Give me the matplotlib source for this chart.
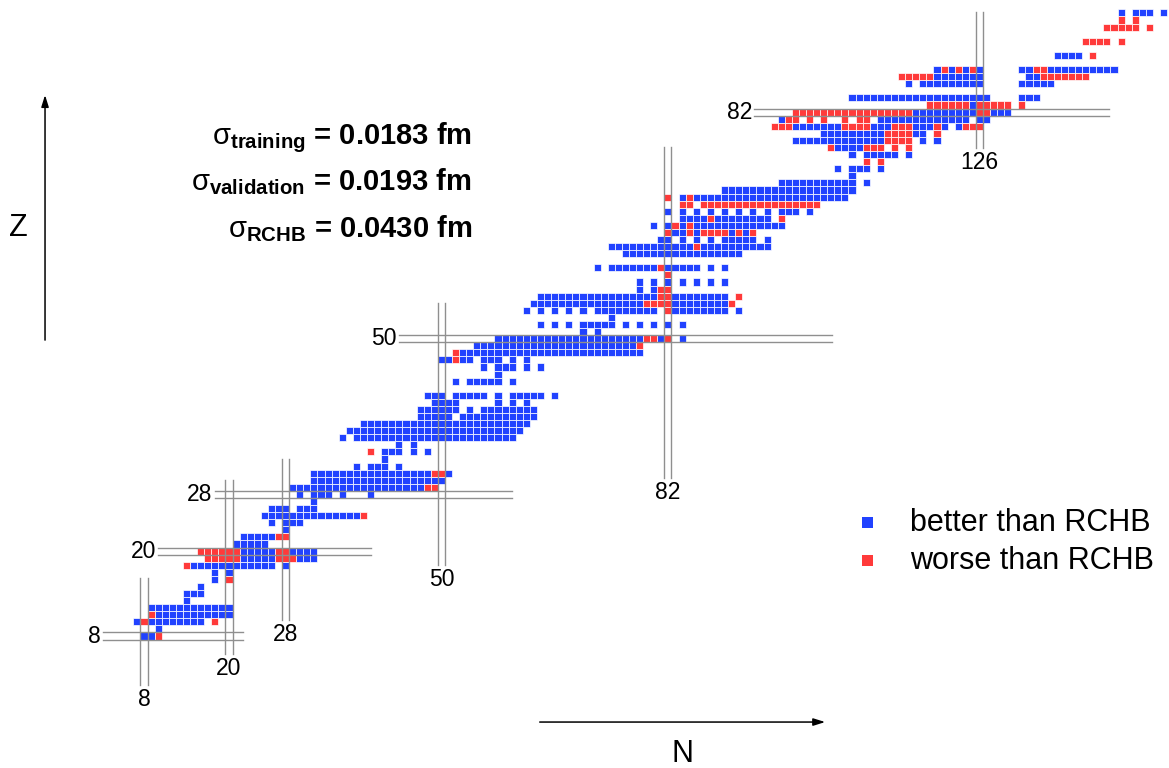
import matplotlib
matplotlib.use('Agg')
import matplotlib.pyplot as plt
from matplotlib.patches import Rectangle
from matplotlib.collections import PatchCollection

plt.rcParams['font.family'] = ['Liberation Sans', 'DejaVu Sans']
plt.rcParams['mathtext.fontset'] = 'custom'
plt.rcParams['mathtext.rm'] = 'Liberation Sans'
plt.rcParams['mathtext.bf'] = 'Liberation Sans:bold'
plt.rcParams['mathtext.it'] = 'Liberation Sans:italic'

# measured nuclei, as runs (Z, first N, last N)
better_runs = [
    (8, 8, 9), (9, 10, 10), (10, 7, 7), (10, 9, 16), (11, 10, 20), (12, 9, 20),
    (13, 14, 14), (14, 14, 16), (15, 16, 16), (16, 18, 18), (17, 18, 18), (17, 20, 20),
    (18, 15, 26), (18, 28, 28), (19, 22, 26), (19, 30, 32), (20, 22, 26), (20, 29, 32),
    (21, 21, 25), (22, 22, 26), (23, 28, 28), (24, 26, 26), (24, 28, 30), (25, 25, 38),
    (26, 26, 28), (26, 30, 32), (27, 32, 32), (28, 30, 30), (28, 32, 34), (28, 36, 36),
    (28, 40, 40), (29, 29, 47), (30, 32, 50), (31, 32, 48), (31, 51, 51),
    (32, 38, 38), (32, 40, 42), (32, 44, 44), (33, 42, 42), (34, 42, 44), (34, 46, 46),
    (34, 48, 48), (35, 44, 44), (35, 46, 46), (36, 36, 36), (36, 38, 60), (37, 37, 61),
    (38, 39, 62), (39, 47, 51), (39, 53, 63), (40, 47, 52), (40, 54, 54), (40, 56, 63),
    (41, 49, 52), (41, 58, 58), (41, 60, 60), (41, 62, 62),
    (42, 48, 50), (42, 52, 56), (42, 58, 58), (42, 60, 64), (42, 66, 66),
    (44, 52, 52), (44, 54, 58), (44, 60, 60), (45, 58, 58),
    (46, 56, 56), (46, 58, 60), (46, 62, 62), (46, 64, 64),
    (47, 50, 51), (47, 53, 54), (47, 56, 58), (47, 60, 60), (47, 62, 62),
    (48, 53, 78), (49, 55, 77), (50, 58, 78), (50, 81, 81), (50, 84, 84),
    (51, 70, 70), (51, 72, 72),
    (52, 64, 64), (52, 66, 66), (52, 68, 68), (52, 70, 74), (52, 76, 76), (52, 78, 78),
    (52, 80, 80), (52, 82, 82), (52, 84, 84), (53, 74, 74),
    (54, 62, 62), (54, 64, 64), (54, 66, 66), (54, 68, 68), (54, 70, 70), (54, 72, 80),
    (54, 83, 90), (54, 92, 92), (55, 63, 78), (55, 83, 90), (56, 64, 80), (56, 83, 90),
    (57, 78, 78), (57, 80, 80),
    (58, 78, 78), (58, 80, 80), (58, 82, 82), (58, 84, 84), (58, 86, 86), (58, 88, 88),
    (58, 90, 90), (60, 72, 72), (60, 74, 80), (60, 82, 86), (60, 88, 88), (60, 90, 90),
    (62, 76, 92), (63, 74, 85), (63, 87, 96),
    (64, 81, 82), (64, 84, 84), (64, 86, 86), (64, 88, 88), (64, 90, 94), (64, 96, 96),
    (65, 83, 84), (65, 86, 86), (65, 91, 91), (65, 93, 93),
    (66, 80, 80), (66, 82, 82), (66, 84, 84), (66, 86, 98), (67, 84, 87), (67, 89, 96),
    (68, 82, 82), (68, 84, 84), (68, 86, 86), (68, 88, 88), (68, 90, 90), (68, 92, 92),
    (68, 94, 94), (68, 96, 96), (68, 98, 100), (68, 102, 102),
    (70, 84, 84), (70, 86, 107), (71, 90, 108), (72, 98, 108), (72, 110, 110),
    (73, 108, 108), (74, 106, 106), (74, 108, 110), (74, 112, 112),
    (76, 108, 108), (76, 110, 114), (76, 116, 116), (77, 106, 109),
    (78, 100, 112), (78, 118, 118), (78, 120, 120), (79, 104, 112), (79, 117, 118),
    (80, 100, 106), (80, 111, 113), (80, 117, 119), (80, 121, 121), (80, 123, 123),
    (81, 98, 98), (81, 112, 124), (81, 126, 127), (82, 117, 125), (82, 128, 130),
    (83, 125, 125), (84, 108, 127), (84, 132, 134),
    (86, 116, 116), (86, 118, 126), (86, 132, 136), (87, 120, 126), (87, 133, 134),
    (88, 120, 120), (88, 122, 122), (88, 124, 124), (88, 126, 126), (88, 132, 133),
    (88, 136, 145), (90, 137, 140),
    (96, 146, 146), (96, 148, 150), (96, 152, 152),
]

worse_runs = [
    (8, 10, 10), (10, 8, 8), (10, 18, 18), (11, 9, 9), (16, 20, 20), (18, 14, 14),
    (19, 17, 21), (19, 27, 29), (20, 16, 21), (20, 27, 28), (22, 27, 28), (25, 39, 39),
    (29, 48, 49), (31, 49, 50), (34, 40, 40), (47, 52, 52), (48, 52, 52), (49, 78, 78),
    (50, 79, 80), (50, 82, 82), (54, 82, 82), (55, 79, 82), (55, 91, 91), (56, 81, 82),
    (56, 92, 92), (57, 81, 82), (59, 82, 82), (60, 81, 81), (63, 86, 86),
    (65, 82, 82), (65, 85, 85), (65, 87, 90), (65, 92, 92), (65, 94, 94),
    (66, 83, 83), (66, 85, 85), (67, 88, 88), (67, 98, 98), (69, 84, 85), (69, 87, 103),
    (70, 82, 82), (70, 85, 85), (75, 110, 110), (75, 112, 112),
    (77, 105, 105), (77, 110, 112), (77, 114, 114), (77, 116, 116),
    (78, 113, 116), (79, 113, 116), (79, 120, 120),
    (80, 97, 99), (80, 107, 110), (80, 114, 116), (80, 120, 120), (80, 124, 126),
    (81, 99, 100), (81, 102, 102), (81, 104, 104), (81, 107, 107), (81, 109, 110),
    (82, 100, 116), (82, 126, 127), (83, 119, 124), (83, 126, 130), (83, 132, 132),
    (87, 115, 119), (87, 135, 141), (88, 121, 121), (88, 123, 123), (88, 125, 125),
    (88, 134, 135), (90, 142, 142), (92, 141, 144), (92, 146, 146),
    (94, 144, 148), (94, 150, 150), (95, 146, 146), (95, 148, 148),
]

# magic numbers and how far their double lines reach
n_magic = [8, 20, 28, 50, 82, 126]
n_line_z = [(1.1, 16.2), (5.4, 30.0), (10.2, 33.0), (18.0, 55.1), (30.3, 77.1), (76.9, 96.2)]
z_magic = [8, 20, 28, 50, 82]
z_line_n = [(2.2, 22.0), (10.0, 40.0), (18.0, 60.0), (44.0, 105.2), (94.2, 144.3)]

sigma_names = ['training', 'validation', 'RCHB']
sigma_values = [0.0183, 0.0193, 0.0430]

blue = '#2142ff'
red = '#ff3a3a'


def cells(runs):
    out = []
    for z, n0, n1 in runs:
        for n in range(n0, n1 + 1):
            out.append(Rectangle((n - 0.5, z - 0.5), 1, 1))
    return out


fig = plt.figure(figsize=(11.69, 7.68), dpi=100)
ax = fig.add_axes([0, 0, 1, 1])
ax.set_xlim(-12.34, 152.77)
ax.set_ylim(-10.64, 97.83)
ax.axis('off')

ax.add_collection(PatchCollection(cells(better_runs), facecolor=blue,
                                  edgecolor='white', linewidth=0.5, zorder=2))
ax.add_collection(PatchCollection(cells(worse_runs), facecolor=red,
                                  edgecolor='white', linewidth=0.5, zorder=2))

gray = '#8f8f8f'
for n, (z0, z1) in zip(n_magic, n_line_z):
    for d in (-0.5, 0.5):
        ax.plot([n + d, n + d], [z0, z1], color=gray, lw=1.0, zorder=3)
    ax.text(n, z0 - 2.0, str(n), ha='center', va='center', fontsize=16.5)
for z, (n0, n1) in zip(z_magic, z_line_n):
    for d in (-0.5, 0.5):
        ax.plot([n0, n1], [z + d, z + d], color=gray, lw=1.0, zorder=3)
    ax.text(n0 - 0.3, z, str(z), ha='right', va='center', fontsize=16.5)

# axis arrows
ax.annotate('', xy=(-5.98, 84.8), xytext=(-5.98, 49.4),
            arrowprops=dict(arrowstyle='-|>,head_length=0.7,head_width=0.22',
                            color='black', lw=1.1))
ax.annotate('', xy=(104.6, -4.15), xytext=(63.5, -4.15),
            arrowprops=dict(arrowstyle='-|>,head_length=0.7,head_width=0.22',
                            color='black', lw=1.1))
ax.text(-9.8, 65.6, 'Z', ha='center', va='center', fontsize=22)
ax.text(84.0, -8.6, 'N', ha='center', va='center', fontsize=22)

# rms deviations
for i, (name, val) in enumerate(zip(sigma_names, sigma_values)):
    ax.text(54.3, 77.5 - i * 6.6,
            r'$\mathrm{\sigma}_{\mathbf{%s}}$ = %.4f fm' % (name, val),
            ha='right', va='baseline', fontsize=21, fontweight='bold')

# legend
for k, (col, lab) in enumerate([(blue, 'better than RCHB'), (red, 'worse than RCHB')]):
    zc = 24.0 - k * 5.35
    ax.add_patch(Rectangle((110.2 - 0.78, zc - 0.78), 1.56, 1.56, facecolor=col,
                           edgecolor='none'))
    ax.text(116.2, zc, lab, ha='left', va='center', fontsize=22)

plt.savefig('out.png', dpi=100)
